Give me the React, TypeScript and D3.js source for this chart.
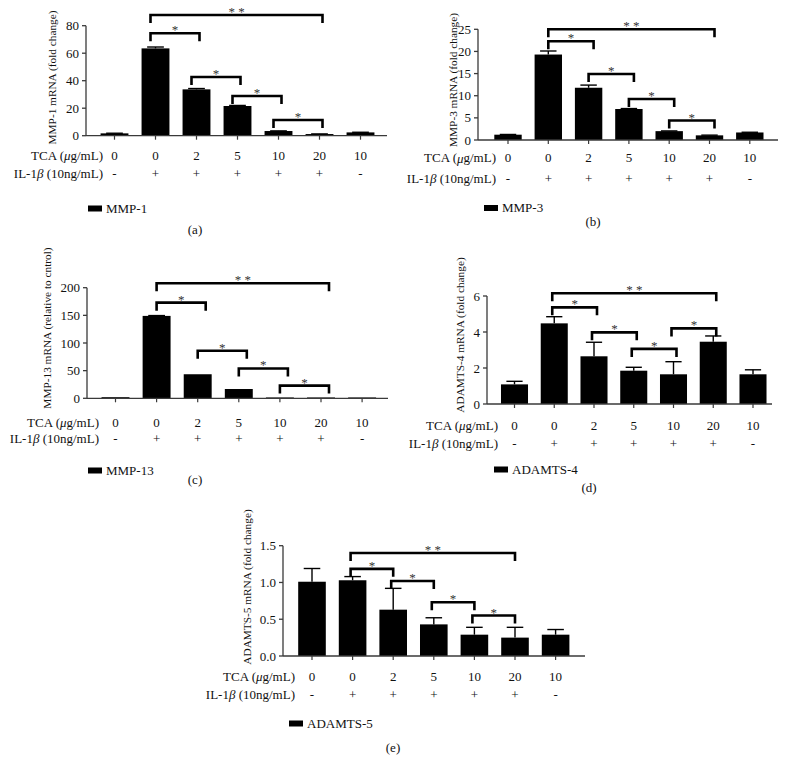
import React from "react";
import * as d3 from "d3";

// ---- shared categories ----
const tcaDoses = ["0", "0", "2", "5", "10", "20", "10"];
const il1bSigns = ["-", "+", "+", "+", "+", "+", "-"];

// ---- (a) MMP-1 ----
const mmp1Values = [1.7, 63.5, 33.7, 21.6, 3.4, 1.2, 2.4];
const mmp1Errors = [0.1, 1.0, 0.6, 0.4, 0.1, 0.1, 0.1];
const mmp1Ticks = [0, 20, 40, 60, 80];
const mmp1Brackets: [number, number, number, string][] = [
  [1, 5, 87.8, "* *"], [1, 2, 74.5, "*"], [2, 3, 42.7, "*"], [3, 4, 28.9, "*"], [4, 5, 11.4, "*"],
];

// ---- (b) MMP-3 ----
const mmp3Values = [1.2, 19.3, 11.8, 7.0, 2.0, 1.05, 1.7];
const mmp3Errors = [0.05, 0.8, 0.6, 0.1, 0.05, 0.05, 0.05];
const mmp3Ticks = [0, 5, 10, 15, 20, 25];
const mmp3Brackets: [number, number, number, string][] = [
  [1, 5, 25, "* *"], [1, 2, 22.3, "*"], [2, 3, 14.9, "*"], [3, 4, 9.25, "*"], [4, 5, 4.4, "*"],
];

// ---- (c) MMP-13 ----
const mmp13Values = [2, 149, 43.5, 16.8, 1.5, 1.5, 1.5];
const mmp13Errors = [0, 0.6, 0, 0, 0, 0, 0];
const mmp13Ticks = [0, 50, 100, 150, 200];
const mmp13Brackets: [number, number, number, string][] = [
  [1, 5, 208, "* *"], [1, 2, 173, "*"], [2, 3, 86, "*"], [3, 4, 54, "*"], [4, 5, 23, "*"],
];

// ---- (d) ADAMTS-4 ----
const adamts4Values = [1.09, 4.48, 2.65, 1.85, 1.65, 3.46, 1.65];
const adamts4Errors = [0.17, 0.37, 0.78, 0.19, 0.7, 0.32, 0.25];
const adamts4Ticks = [0, 2, 4, 6];
const adamts4Brackets: [number, number, number, string][] = [
  [1, 5, 6.15, "* *"], [1, 2, 5.37, "*"], [2, 3, 3.98, "*"], [3, 4, 3.06, "*"], [4, 5, 4.2, "*"],
];

// ---- (e) ADAMTS-5 ----
const adamts5Values = [1.01, 1.03, 0.63, 0.43, 0.29, 0.25, 0.29];
const adamts5Errors = [0.18, 0.05, 0.29, 0.09, 0.1, 0.14, 0.07];
const adamts5Ticks = [0, 0.5, 1.0, 1.5];
const adamts5Brackets: [number, number, number, string][] = [
  [1, 5, 1.4, "* *"], [1, 2, 1.185, "*"], [2, 3, 1.02, "*"], [3, 4, 0.73, "*"], [4, 5, 0.55, "*"],
];

const FONT = "'Liberation Serif', 'Times New Roman', serif";

type Layout = {
  axisX: number; y0: number; yTop: number; c0: number; step: number; axisEnd: number;
  row1: number; row2: number; labelRight: number; yLabelX: number; yLabelY: number;
  legendX: number; legendY: number; captionX: number; captionY: number; bl: number; br: number;
};

type PanelProps = {
  values: number[]; errors: number[]; ticks: number[]; fmt: (v: number) => string;
  brackets: [number, number, number, string][]; yLabel: string; legend: string; caption: string;
  L: Layout;
};

function Panel({ values, errors, ticks, fmt, brackets, yLabel, legend, caption, L }: PanelProps) {
  const n = values.length;
  const y = d3.scaleLinear().domain([0, ticks[ticks.length - 1]]).range([L.y0, L.yTop]);
  const x = d3
    .scaleBand<number>()
    .domain(d3.range(n))
    .range([L.c0 - L.step / 2, L.c0 + (n - 0.5) * L.step])
    .paddingInner(0.32)
    .paddingOuter(0.16);
  const bw = x.bandwidth();
  const cx = (i: number) => (x(i) as number) + bw / 2;
  const capW = bw * 0.6;
  const axisColor = "#3a3a3a";
  return (
    <g>
      {values.map((v, i) => (
        <rect key={"b" + i} x={x(i)} y={y(v)} width={bw} height={L.y0 - y(v)} fill="#000" />
      ))}
      {values.map((v, i) =>
        errors[i] > 0 ? (
          <g key={"e" + i} stroke="#000" strokeWidth={1.4}>
            <line x1={cx(i)} x2={cx(i)} y1={y(v)} y2={y(v + errors[i])} />
            <line x1={cx(i) - capW / 2} x2={cx(i) + capW / 2} y1={y(v + errors[i])} y2={y(v + errors[i])} />
          </g>
        ) : null
      )}
      <line x1={L.axisX} x2={L.axisX} y1={L.y0} y2={L.yTop} stroke={axisColor} strokeWidth={1.3} />
      <line x1={L.axisX} x2={L.axisEnd} y1={L.y0} y2={L.y0} stroke={axisColor} strokeWidth={1.3} />
      {ticks.map((t) => (
        <g key={"t" + t}>
          <line x1={L.axisX - 4} x2={L.axisX} y1={y(t)} y2={y(t)} stroke={axisColor} strokeWidth={1.3} />
          <text x={L.axisX - 7} y={y(t)} textAnchor="end" dominantBaseline="central" fontSize={13} fontFamily={FONT} fill="#111">
            {fmt(t)}
          </text>
        </g>
      ))}
      {values.map((_, i) => (
        <line key={"xt" + i} x1={cx(i)} x2={cx(i)} y1={L.y0} y2={L.y0 + 4} stroke={axisColor} strokeWidth={1.2} />
      ))}
      <text
        transform={`translate(${L.yLabelX},${L.yLabelY}) rotate(-90)`}
        textAnchor="middle"
        dominantBaseline="central"
        fontSize={11.3}
        fontFamily={FONT}
        fill="#111"
      >
        {yLabel}
      </text>
      <text x={L.labelRight} y={L.row1} textAnchor="end" dominantBaseline="central" fontSize={13} fontFamily={FONT} fill="#111">
        TCA (<tspan fontStyle="italic">μ</tspan>g/mL)
      </text>
      <text x={L.labelRight} y={L.row2} textAnchor="end" dominantBaseline="central" fontSize={13} fontFamily={FONT} fill="#111">
        IL-1<tspan fontStyle="italic">β</tspan> (10ng/mL)
      </text>
      {tcaDoses.map((d, i) => (
        <text key={"r1" + i} x={cx(i)} y={L.row1} textAnchor="middle" dominantBaseline="central" fontSize={13} fontFamily={FONT} fill="#111">
          {d}
        </text>
      ))}
      {il1bSigns.map((s, i) => (
        <text key={"r2" + i} x={cx(i)} y={L.row2} textAnchor="middle" dominantBaseline="central" fontSize={13} fontFamily={FONT} fill="#111">
          {s}
        </text>
      ))}
      {brackets.map(([a, b, lvl, lab], k) => {
        const x1 = cx(a) + L.bl;
        const x2 = cx(b) + L.br;
        const yy = y(lvl);
        return (
          <g key={"br" + k}>
            <path
              d={`M${x1},${yy + 8}V${yy}H${x2}V${yy + 8}`}
              fill="none"
              stroke="#000"
              strokeWidth={2.6}
              strokeLinejoin="miter"
            />
            <text x={(x1 + x2) / 2} y={yy + 1} textAnchor="middle" fontSize={13} fontFamily={FONT} fill="#333">
              {lab}
            </text>
          </g>
        );
      })}
      <rect x={L.legendX} y={L.legendY - 2.5} width={14} height={6} fill="#000" />
      <text x={L.legendX + 18} y={L.legendY} dominantBaseline="central" fontSize={13} fontFamily={FONT} fill="#111">
        {legend}
      </text>
      <text x={L.captionX} y={L.captionY} textAnchor="middle" dominantBaseline="central" fontSize={13} fontFamily={FONT} fill="#111">
        {caption}
      </text>
    </g>
  );
}

const intFmt = d3.format("d");
const dec1Fmt = d3.format(".1f");

export default function App() {
  return (
    <svg width={788} height={771} style={{ position: "absolute", left: 0, top: 0, background: "#fff" }}>
      <rect width={788} height={771} fill="#fff" />
      <Panel
        values={mmp1Values} errors={mmp1Errors} ticks={mmp1Ticks} fmt={intFmt} brackets={mmp1Brackets}
        yLabel="MMP-1 mRNA (fold change)" legend="MMP-1" caption="(a)"
        L={{ axisX: 86, y0: 135.7, yTop: 25.7, c0: 114.5, step: 41, axisEnd: 387, row1: 155, row2: 173, labelRight: 103,
          yLabelX: 52, yLabelY: 77.5, legendX: 88, legendY: 208, captionX: 195, captionY: 229, bl: -5, br: 3 }}
      />
      <Panel
        values={mmp3Values} errors={mmp3Errors} ticks={mmp3Ticks} fmt={intFmt} brackets={mmp3Brackets}
        yLabel="MMP-3 mRNA (fold change)" legend="MMP-3" caption="(b)"
        L={{ axisX: 478, y0: 140, yTop: 29.3, c0: 508, step: 40.3, axisEnd: 778, row1: 157.5, row2: 178, labelRight: 496,
          yLabelX: 453, yLabelY: 80, legendX: 484, legendY: 207.5, captionX: 593, captionY: 221, bl: 0, br: 5 }}
      />
      <Panel
        values={mmp13Values} errors={mmp13Errors} ticks={mmp13Ticks} fmt={intFmt} brackets={mmp13Brackets}
        yLabel="MMP-13 mRNA (relative to cntrol)" legend="MMP-13" caption="(c)"
        L={{ axisX: 87, y0: 398.3, yTop: 287.7, c0: 115.5, step: 41.1, axisEnd: 388, row1: 422, row2: 438, labelRight: 99,
          yLabelX: 47, yLabelY: 328, legendX: 88, legendY: 470, captionX: 195, captionY: 479, bl: 0, br: 8 }}
      />
      <Panel
        values={adamts4Values} errors={adamts4Errors} ticks={adamts4Ticks} fmt={intFmt} brackets={adamts4Brackets}
        yLabel="ADAMTS-4 mRNA (fold change)" legend="ADAMTS-4" caption="(d)"
        L={{ axisX: 487, y0: 404, yTop: 296, c0: 514.5, step: 39.75, axisEnd: 772, row1: 425, row2: 443, labelRight: 498,
          yLabelX: 460, yLabelY: 335, legendX: 494, legendY: 469, captionX: 589, captionY: 487, bl: -2, br: 3 }}
      />
      <Panel
        values={adamts5Values} errors={adamts5Errors} ticks={adamts5Ticks} fmt={dec1Fmt} brackets={adamts5Brackets}
        yLabel="ADAMTS-5 mRNA (fold change)" legend="ADAMTS-5" caption="(e)"
        L={{ axisX: 283, y0: 656, yTop: 545.7, c0: 312, step: 40.6, axisEnd: 585, row1: 676, row2: 694, labelRight: 295,
          yLabelX: 247, yLabelY: 587, legendX: 289, legendY: 723, captionX: 393, captionY: 747, bl: -2, br: 0 }}
      />
    </svg>
  );
}
